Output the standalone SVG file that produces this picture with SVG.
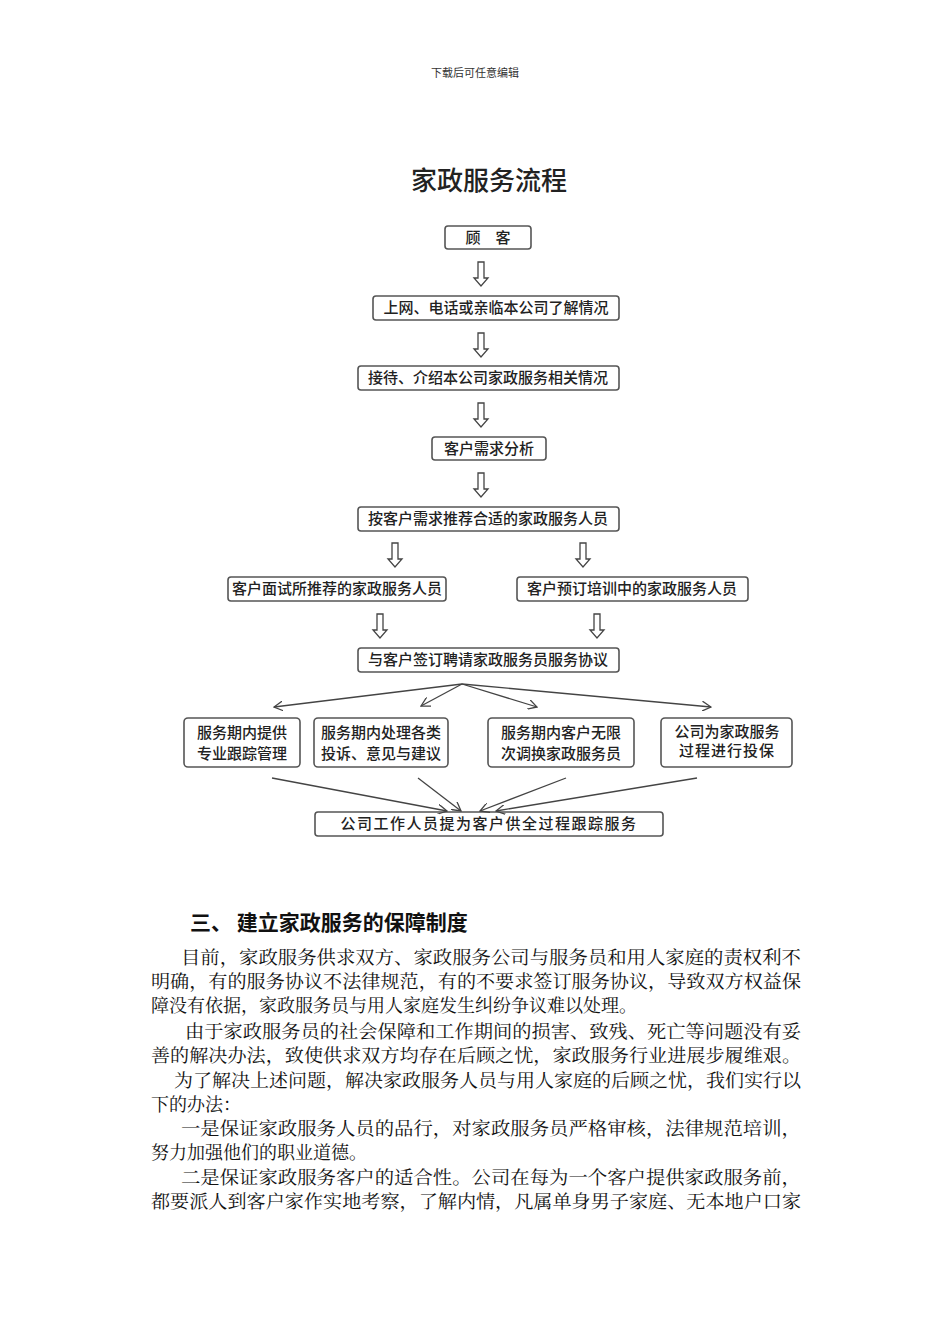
<svg xmlns="http://www.w3.org/2000/svg" width="950" height="1344" viewBox="0 0 950 1344">
<style>
.b{fill:#fff;stroke:#555;stroke-width:1.6}
.t{font-family:"Noto Sans CJK SC",sans-serif;font-size:15px;font-weight:500;fill:#222;text-anchor:middle}
.p{font-family:"Noto Serif CJK SC","Liberation Serif","Noto Sans CJK SC",serif;font-size:18px;fill:#111}
.ha{fill:#fff;stroke:#444;stroke-width:1.3}
.ln{stroke:#444;stroke-width:1.3;fill:none}
</style>
<defs>
<path id="ha" class="ha" d="M-3,0 h6 v16 h4 l-7,8 l-7,-8 h4 z"/>
<marker id="ar" viewBox="0 0 10 10" refX="9" refY="5" markerWidth="10" markerHeight="10" orient="auto" markerUnits="userSpaceOnUse"><path d="M0,0 L9,5 L0,10" fill="none" stroke="#444" stroke-width="1.3"/></marker>
</defs>
<rect width="950" height="1344" fill="#fff"/>
<text x="475" y="77" font-family="Noto Sans CJK SC,sans-serif" font-size="11" text-anchor="middle" fill="#333">下载后可任意编辑</text>
<text x="489" y="190" font-family="Noto Sans CJK SC,sans-serif" font-size="26" font-weight="500" text-anchor="middle" fill="#222">家政服务流程</text>
<g id="n1"><rect class="b" x="445" y="226" width="86" height="23" rx="3"/><text class="t" x="488" y="243">顾　客</text></g>
<g id="n2"><rect class="b" x="373" y="296" width="246" height="24" rx="3"/><text class="t" x="496" y="313">上网、电话或亲临本公司了解情况</text></g>
<g id="n3"><rect class="b" x="358" y="366" width="261" height="24" rx="3"/><text class="t" x="488" y="383">接待、介绍本公司家政服务相关情况</text></g>
<g id="n4"><rect class="b" x="432" y="437" width="114" height="23" rx="3"/><text class="t" x="489" y="454">客户需求分析</text></g>
<g id="n5"><rect class="b" x="358" y="507" width="261" height="24" rx="3"/><text class="t" x="488" y="524">按客户需求推荐合适的家政服务人员</text></g>
<g id="n6"><rect class="b" x="228" y="577" width="218" height="24" rx="3"/><text class="t" x="337" y="594">客户面试所推荐的家政服务人员</text></g>
<g id="n7"><rect class="b" x="517" y="577" width="231" height="24" rx="3"/><text class="t" x="632" y="594">客户预订培训中的家政服务人员</text></g>
<g id="n8"><rect class="b" x="358" y="648" width="261" height="24" rx="3"/><text class="t" x="488" y="665">与客户签订聘请家政服务员服务协议</text></g>
<g id="n9"><rect class="b" x="184" y="718" width="116" height="49" rx="4"/><text class="t" x="242" y="738">服务期内提供</text><text class="t" x="242" y="759">专业跟踪管理</text></g>
<g id="n10"><rect class="b" x="314" y="718" width="134" height="49" rx="4"/><text class="t" x="381" y="738">服务期内处理各类</text><text class="t" x="381" y="759">投诉、意见与建议</text></g>
<g id="n11"><rect class="b" x="488" y="718" width="146" height="49" rx="4"/><text class="t" x="561" y="738">服务期内客户无限</text><text class="t" x="561" y="759">次调换家政服务员</text></g>
<g id="n12"><rect class="b" x="661" y="718" width="131" height="49" rx="4"/><text class="t" x="727" y="737">公司为家政服务</text><text class="t" x="727" y="756" letter-spacing="1">过程进行投保</text></g>
<g id="n13"><rect class="b" x="315" y="812" width="348" height="24" rx="3"/><text class="t" x="489" y="829" letter-spacing="1.5">公司工作人员提为客户供全过程跟踪服务</text></g>
<g id="connectors">
<use href="#ha" x="481" y="262"/><use href="#ha" x="481" y="333"/><use href="#ha" x="481" y="403"/><use href="#ha" x="481" y="473"/>
<use href="#ha" x="395" y="543"/><use href="#ha" x="583" y="543"/><use href="#ha" x="380" y="614"/><use href="#ha" x="597" y="614"/>
<line class="ln" x1="462" y1="684" x2="274" y2="707" marker-end="url(#ar)"/>
<line class="ln" x1="462" y1="684" x2="421" y2="706" marker-end="url(#ar)"/>
<line class="ln" x1="462" y1="684" x2="537" y2="707" marker-end="url(#ar)"/>
<line class="ln" x1="462" y1="684" x2="711" y2="707" marker-end="url(#ar)"/>
<line class="ln" x1="272" y1="778" x2="447" y2="811" marker-end="url(#ar)"/>
<line class="ln" x1="418" y1="778" x2="461" y2="811" marker-end="url(#ar)"/>
<line class="ln" x1="566" y1="778" x2="480" y2="811" marker-end="url(#ar)"/>
<line class="ln" x1="697" y1="778" x2="496" y2="811" marker-end="url(#ar)"/>
</g>
<text x="190" y="930" font-family="Noto Sans CJK SC,sans-serif" font-size="21" font-weight="bold" fill="#111">三、 建立家政服务的保障制度</text>
<text class="p" x="181" y="964" textLength="620" lengthAdjust="spacingAndGlyphs">目前，家政服务供求双方、家政服务公司与服务员和用人家庭的责权利不</text>
<text class="p" x="151" y="988" textLength="650" lengthAdjust="spacingAndGlyphs">明确，有的服务协议不法律规范，有的不要求签订服务协议，导致双方权益保</text>
<text class="p" x="151" y="1012">障没有依据，家政服务员与用人家庭发生纠纷争议难以处理。</text>
<text class="p" x="185" y="1038" textLength="616" lengthAdjust="spacingAndGlyphs">由于家政服务员的社会保障和工作期间的损害、致残、死亡等问题没有妥</text>
<text class="p" x="151" y="1062" textLength="650" lengthAdjust="spacingAndGlyphs">善的解决办法，致使供求双方均存在后顾之忧，家政服务行业进展步履维艰。</text>
<text class="p" x="174" y="1087" textLength="627" lengthAdjust="spacingAndGlyphs">为了解决上述问题，解决家政服务人员与用人家庭的后顾之忧，我们实行以</text>
<text class="p" x="151" y="1111">下的办法：</text>
<text class="p" x="181" y="1135" textLength="620" lengthAdjust="spacingAndGlyphs">一是保证家政服务人员的品行，对家政服务员严格审核，法律规范培训，</text>
<text class="p" x="151" y="1159">努力加强他们的职业道德。</text>
<text class="p" x="181" y="1184" textLength="620" lengthAdjust="spacingAndGlyphs">二是保证家政服务客户的适合性。公司在每为一个客户提供家政服务前，</text>
<text class="p" x="151" y="1208" textLength="650" lengthAdjust="spacingAndGlyphs">都要派人到客户家作实地考察，了解内情，凡属单身男子家庭、无本地户口家</text>
</svg>
